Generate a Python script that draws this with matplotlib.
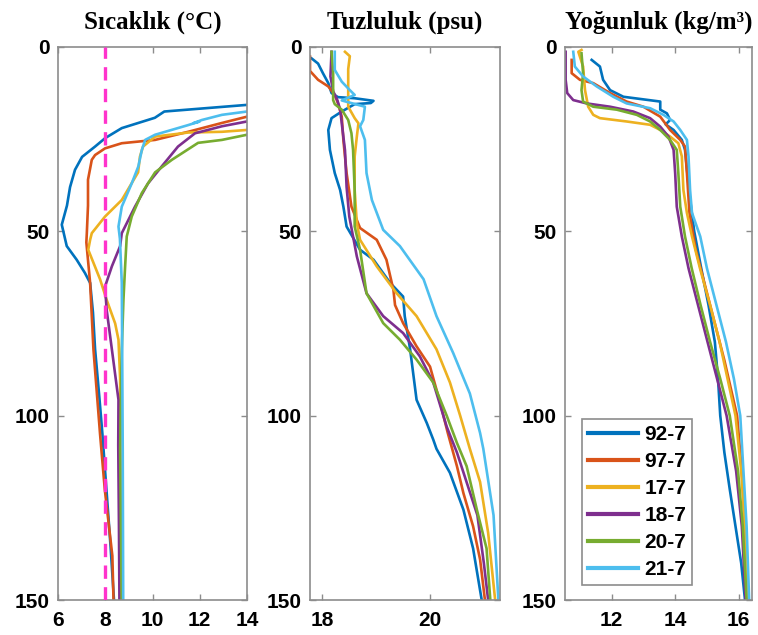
import matplotlib
matplotlib.use("Agg")
from matplotlib import pyplot as plt

# station labels and MATLAB default colours
labels = ['92-7', '97-7', '17-7', '18-7', '20-7', '21-7']
colors = ['#0072BD', '#D95319', '#EDB120', '#7E2F8E', '#77AC30', '#4DBEEE']
ref_temp = 8  # dashed reference line

# --- temperature (degC) vs depth (m) ---
temp_92_d = [14.8, 15.7, 17.5, 19.2, 22, 24.7, 27, 29.8, 33.3, 38, 43, 48.2, 54, 57.7, 61.3, 64, 72, 82, 95, 105, 120, 135, 150]
temp_92 = [16.0, 14.0, 10.5, 10.1, 8.7, 8.0, 7.57, 7.02, 6.72, 6.51, 6.38, 6.16, 6.37, 6.79, 7.14, 7.36, 7.48, 7.57, 7.75, 7.88, 8.05, 8.22, 8.37]
temp_97_d = [17.5, 18.9, 20.6, 23, 25.2, 26.1, 27.5, 29.3, 30.6, 36, 43, 50.5, 53, 64, 82, 105, 120, 138, 150]
temp_97 = [16.0, 14.0, 12.94, 11.51, 10.11, 8.7, 7.99, 7.57, 7.43, 7.27, 7.27, 7.22, 7.2, 7.36, 7.5, 7.78, 7.98, 8.3, 8.35]
temp_17_d = [21.8, 22.5, 23, 23.2, 24.3, 27, 29.7, 34, 41.5, 46, 50.5, 52.3, 55, 63, 68.6, 75, 79.4, 90, 120, 150]
temp_17 = [16.0, 14.0, 12.94, 11.51, 10.11, 9.6, 9.47, 9.39, 8.7, 7.99, 7.43, 7.36, 7.28, 7.78, 8.06, 8.42, 8.56, 8.63, 8.66, 8.68]
temp_18_d = [19, 20.2, 21.5, 23.4, 27, 32.4, 37, 43.3, 50.5, 54, 59.5, 65, 71.3, 82, 95.7, 108, 130, 150]
temp_18 = [16, 14, 12.94, 11.8, 11.08, 10.39, 9.81, 9.26, 8.7, 8.63, 8.28, 7.99, 8.06, 8.28, 8.56, 8.55, 8.58, 8.6]
temp_20_d = [22.8, 23.8, 25.2, 26, 30.6, 34, 39.6, 46, 51.4, 59.6, 68.6, 82, 109, 130, 150]
temp_20 = [16, 14, 12.94, 11.93, 10.82, 10.11, 9.55, 9.12, 8.91, 8.84, 8.77, 8.7, 8.63, 8.66, 8.7]
temp_21_d = [16.5, 17.5, 18.4, 19.8, 20.6, 20.2, 21.2, 23.8, 25.2, 27.9, 32.4, 37, 43.3, 48.7, 52, 64, 109, 150]
temp_21 = [16, 14, 12.94, 12.09, 11.75, 12.0, 11.5, 10.11, 9.69, 9.55, 9.4, 9.12, 8.7, 8.56, 8.62, 8.7, 8.74, 8.76]

# --- salinity (psu) vs depth (m) ---
sal_92_d = [3.1, 4.5, 7.1, 9.8, 12.5, 13.6, 13.9, 14.6, 15.2, 15.5, 17.5, 19.3, 22.5, 27.9, 34.2, 38.8, 43.3, 48.7, 55, 57.7, 64, 67.7, 73, 82, 95.7, 102, 106.5, 109, 115.5, 125.5, 136, 150]
sal_92 = [17.8, 17.92, 18.01, 18.11, 18.17, 18.29, 18.6, 18.95, 18.9, 18.6, 18.36, 18.17, 18.11, 18.14, 18.23, 18.33, 18.39, 18.45, 18.7, 18.95, 19.26, 19.5, 19.53, 19.63, 19.75, 19.94, 20.06, 20.12, 20.37, 20.62, 20.8, 20.96]
sal_97_d = [2.6, 6.5, 8.9, 10.7, 13, 15.3, 18.9, 25.2, 34.2, 43.3, 49.1, 52.3, 57.7, 65.9, 70, 74.9, 81.2, 86.7, 96.6, 104.7, 113.7, 121, 130, 139, 150]
sal_97 = [17.77, 17.77, 17.92, 18.11, 18.23, 18.29, 18.36, 18.39, 18.45, 18.54, 18.7, 19.01, 19.19, 19.32, 19.35, 19.5, 19.75, 20.0, 20.19, 20.33, 20.5, 20.62, 20.8, 20.93, 21.02]
sal_17_d = [1.3, 2.5, 6, 11.7, 16.2, 19.3, 20.7, 24.3, 29.7, 38.8, 47.8, 52.3, 59.5, 66.8, 73, 82, 91, 100, 109, 118, 131.8, 150]
sal_17 = [18.42, 18.51, 18.48, 18.48, 18.48, 18.6, 18.67, 18.64, 18.6, 18.6, 18.64, 18.7, 19.01, 19.38, 19.75, 20.12, 20.37, 20.56, 20.74, 20.93, 21.08, 21.21]
sal_18_d = [1.3, 8, 12, 14.5, 17, 20.7, 28, 38, 46, 56.8, 66.8, 73, 77.6, 83.9, 91, 103, 110, 127, 140, 150]
sal_18 = [18.17, 18.15, 18.2, 18.28, 18.33, 18.36, 18.42, 18.45, 18.5, 18.64, 18.82, 19.13, 19.5, 19.81, 20.06, 20.31, 20.5, 20.88, 21.0, 21.08]
sal_20_d = [1.3, 7.1, 14.4, 15.5, 17, 19.8, 23.4, 27.9, 38.8, 48.7, 55, 66.8, 74.9, 79.4, 84.8, 91, 100, 107.4, 113.7, 125.5, 136, 150]
sal_20 = [18.17, 18.2, 18.2, 18.23, 18.36, 18.48, 18.54, 18.57, 18.6, 18.6, 18.7, 18.82, 19.13, 19.44, 19.75, 20.06, 20.31, 20.5, 20.68, 20.87, 21.05, 21.12]
sal_21_d = [1.3, 6.2, 9.4, 11.7, 13, 14.5, 16.2, 19.8, 21.5, 25.2, 34.2, 41.5, 49.6, 54, 63, 73, 83, 94, 104.7, 109, 127, 150]
sal_21 = [18.23, 18.23, 18.36, 18.51, 18.6, 18.36, 18.79, 18.76, 18.7, 18.79, 18.82, 18.92, 19.13, 19.44, 19.88, 20.12, 20.43, 20.74, 20.93, 20.99, 21.18, 21.27]

# --- density (kg/m3) vs depth (m) ---
dens_92_d = [3.5, 5.3, 8.9, 11.7, 13.5, 14.8, 17, 18, 19.8, 21, 22.5, 25.2, 27.9, 40, 50, 60, 70, 80, 90, 100, 110, 120, 130, 140, 150]
dens_92 = [11.37, 11.63, 11.73, 11.95, 12.37, 13.53, 13.53, 13.74, 13.84, 13.7, 13.95, 14.21, 14.31, 14.45, 14.6, 14.82, 15.05, 15.25, 15.35, 15.42, 15.55, 15.72, 15.9, 16.08, 16.2]
dens_97_d = [3.5, 7.1, 8.9, 9.8, 12.5, 14.8, 16.2, 18.9, 22.5, 25.2, 27, 34.2, 45, 55, 65, 75, 85, 100, 115, 130, 150]
dens_97 = [10.74, 10.74, 11.0, 11.42, 11.95, 12.47, 13.0, 13.53, 13.84, 14.16, 14.31, 14.37, 14.45, 14.65, 14.95, 15.25, 15.55, 15.95, 16.1, 16.2, 16.28]
dens_17_d = [0.8, 1.3, 5.3, 11.7, 16.2, 18.4, 19.3, 20.2, 21.1, 22.5, 24.3, 26.1, 29.7, 38.8, 45, 51.4, 60, 70, 80, 90, 100, 115, 130, 150]
dens_17 = [11.05, 10.95, 11.1, 11.16, 11.26, 11.42, 11.63, 12.47, 13.21, 13.53, 13.84, 14.1, 14.21, 14.26, 14.37, 14.53, 14.78, 15.1, 15.4, 15.65, 15.9, 16.08, 16.2, 16.3]
dens_18_d = [1.3, 8.9, 12.5, 14.4, 15.3, 16.2, 17.5, 19.3, 21.6, 24.3, 27.9, 34.2, 43.3, 51.4, 60, 70, 80, 90, 100, 115, 130, 150]
dens_18 = [10.55, 10.55, 10.6, 10.79, 11.21, 11.95, 12.68, 13.21, 13.53, 13.79, 13.95, 14.0, 14.05, 14.21, 14.42, 14.72, 15.02, 15.32, 15.62, 15.92, 16.1, 16.22]
dens_20_d = [1.7, 7.1, 11.7, 14.8, 16.2, 17, 18.4, 20.2, 22.5, 25.2, 27.9, 34.2, 43.3, 51.4, 60, 70, 80, 90, 100, 115, 130, 150]
dens_20 = [11.05, 11.1, 11.05, 11.1, 11.42, 12.16, 12.79, 13.21, 13.53, 13.84, 14.05, 14.1, 14.16, 14.31, 14.52, 14.8, 15.1, 15.42, 15.72, 15.98, 16.13, 16.25]
dens_21_d = [1.3, 5.3, 8, 10.7, 13.5, 15.3, 16.6, 18.4, 20.2, 22.5, 25.2, 29.7, 38.8, 45, 51.4, 60, 70, 80, 90, 100, 115, 130, 150]
dens_21 = [10.79, 10.84, 11.1, 11.53, 12.05, 12.47, 13.21, 13.63, 13.95, 14.16, 14.37, 14.42, 14.47, 14.53, 14.79, 15.0, 15.3, 15.6, 15.85, 16.05, 16.15, 16.25, 16.33]

temp_series = [(temp_92, temp_92_d), (temp_97, temp_97_d), (temp_17, temp_17_d),
               (temp_18, temp_18_d), (temp_20, temp_20_d), (temp_21, temp_21_d)]
sal_series = [(sal_92, sal_92_d), (sal_97, sal_97_d), (sal_17, sal_17_d),
              (sal_18, sal_18_d), (sal_20, sal_20_d), (sal_21, sal_21_d)]
dens_series = [(dens_92, dens_92_d), (dens_97, dens_97_d), (dens_17, dens_17_d),
               (dens_18, dens_18_d), (dens_20, dens_20_d), (dens_21, dens_21_d)]

plt.rcParams['font.family'] = 'Liberation Sans'
plt.rcParams['font.weight'] = 'bold'

fig = plt.figure(figsize=(7.58, 6.35), dpi=100)
W, H = 758, 635
bottom, height = (H - 600) / H, 553 / H
ax1 = fig.add_axes([58 / W, bottom, 189 / W, height])
ax2 = fig.add_axes([310 / W, bottom, 190 / W, height])
ax3 = fig.add_axes([565 / W, bottom, 187 / W, height])

panels = [
    (ax1, temp_series, 'Sıcaklık (°C)', (6, 14), [6, 8, 10, 12, 14]),
    (ax2, sal_series, 'Tuzluluk (psu)', (17.77, 21.30), [18, 20]),
    (ax3, dens_series, 'Yoğunluk (kg/m³)', (10.53, 16.42), [12, 14, 16]),
]

for ax, series, title, xlim, xticks in panels:
    for (vals, depth), c, lab in zip(series, colors, labels):
        ax.plot(vals, depth, color=c, lw=1.9, label=lab)
    ax.set_xlim(*xlim)
    ax.set_ylim(150, 0)
    ax.set_xticks(xticks)
    ax.set_yticks([0, 50, 100, 150])
    ax.set_title(title, fontsize=18, fontweight='bold', family='Liberation Serif', pad=13)
    for s in ax.spines.values():
        s.set_color('#8c8c8c')
        s.set_linewidth(1.2)
    ax.tick_params(direction='in', length=4, width=1, color='#8c8c8c',
                   top=True, right=True, labelsize=15)
    ax.tick_params(axis='x', pad=8)
    ax.tick_params(axis='y', pad=6)
    for t in ax.get_xticklabels() + ax.get_yticklabels():
        t.set_fontweight('bold')

ax1.axvline(ref_temp, color='#FF33CC', lw=2.4, ls=(0, (4, 2.5)), zorder=5)

leg = ax3.legend(loc='lower left', bbox_to_anchor=(0.089, 0.027), borderaxespad=0,
                 fancybox=False, edgecolor='#8c8c8c', framealpha=1,
                 prop={'weight': 'bold', 'size': 15, 'family': 'Liberation Sans'},
                 handlelength=2.4, handletextpad=0.3, labelspacing=0.38, borderpad=0.3)
leg.get_frame().set_linewidth(1.2)
for h in leg.get_lines():
    h.set_linewidth(3)

fig.savefig('out.png', dpi=100)
